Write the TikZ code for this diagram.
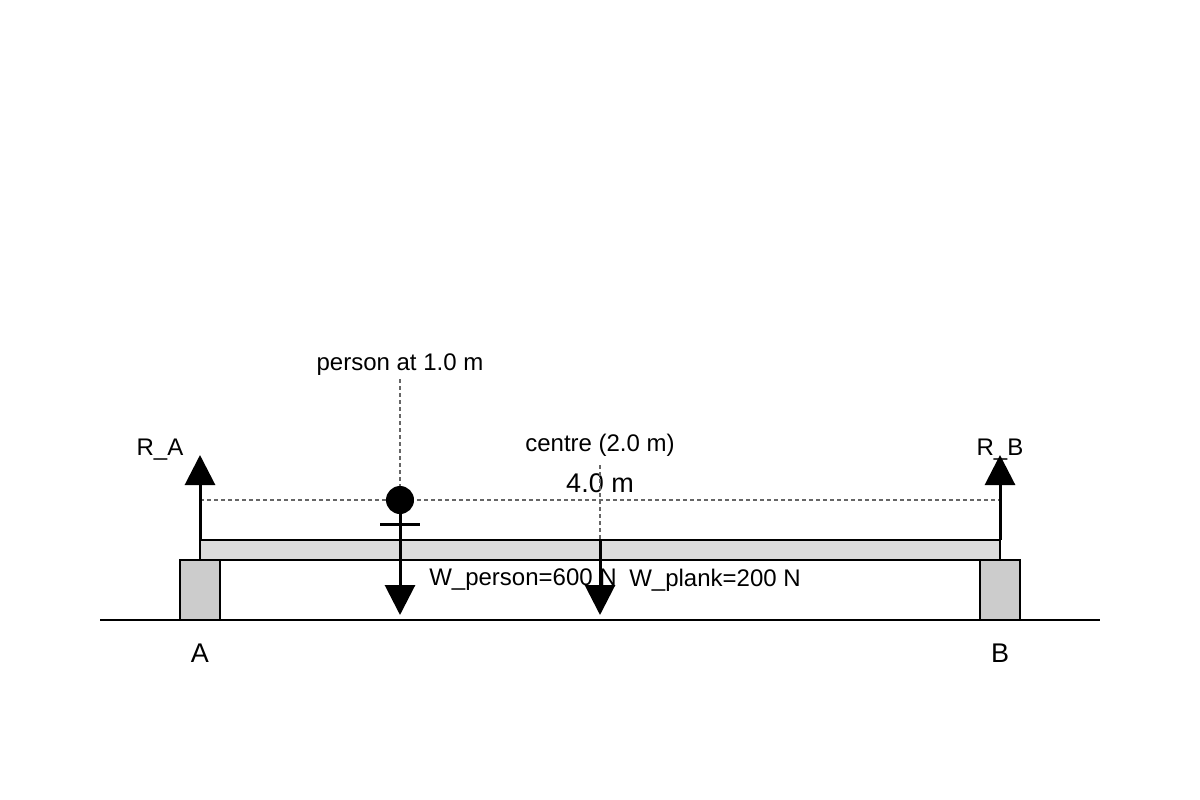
\documentclass[tikz,border=0pt]{standalone}
\usepackage{fontspec}
\setmainfont{Liberation Sans}
\usetikzlibrary{arrows.meta}
\definecolor{supportgray}{HTML}{CCCCCC}
\definecolor{plankgray}{HTML}{DDDDDD}
\tikzset{
  force/.style={line width=3pt, -{Triangle[length=30pt, width=30pt]}},
  guide/.style={gray!80!black, dash pattern=on 4pt off 3pt, line width=1.3pt},
  lbl/.style={font=\fontsize{24}{28}\selectfont},
  biglbl/.style={font=\fontsize{27}{31}\selectfont}
}
\begin{document}
\begin{tikzpicture}[x=1pt, y=-1pt]
        \useasboundingbox (0, 0) rectangle (1200, 800);
        % ground and supports
        \draw[line width=2pt] (100, 620) -- (1100, 620);
        \draw[fill=supportgray, line width=1.6pt] (180, 560) rectangle (220, 620);
        \draw[fill=supportgray, line width=1.6pt] (980, 560) rectangle (1020, 620);
        \draw[fill=plankgray, line width=1.6pt] (200, 540) rectangle (1000, 560);
        \node[biglbl] (A) at (200, 653) {A};
        \node[biglbl] (B) at (1000, 653) {B};
        % reactions
        \coordinate (ra0) at (200, 540);
        \coordinate (ra1) at (200, 455);
        \coordinate (rb0) at (1000, 540);
        \coordinate (rb1) at (1000, 455);
        \draw[guide] (ra1 |- 0, 500) -- (rb1 |- 0, 500);
        \draw[force] (ra0) -- (ra1);
        \draw[force] (rb0) -- (rb1);
        \node[lbl] (RA) at (160, 450) {R\_A};
        \node[lbl] (RB) at (1000, 450) {R\_B};
        \node[biglbl] (span) at (600, 483) {4.0 m};
        % person
        \node[lbl] (ptxt) at (400, 365) {person at 1.0 m};
        \node[circle, fill=black, inner sep=0pt, minimum size=28pt] (head) at (400, 500) {};
        \draw[guide] (ptxt) -- (head);
        \draw[line width=3pt] (380, 524) -- (420, 524);
        \coordinate (wp1) at (400, 615);
        \draw[force] (head) -- (wp1);
        % plank weight
        \node[lbl] (ctxt) at (600, 445) {centre (2.0 m)};
        \coordinate (wc0) at (600, 540);
        \coordinate (wc1) at (600, 615);
        \draw[guide] (600, 465) -- (wc0);
        \draw[force] (wc0) -- (wc1);
        \node[lbl] (wptxt) at (523, 580) {W\_person=600 N};
        \node[lbl] (wctxt) at (715, 580) {W\_plank=200 N};
\end{tikzpicture}
\end{document}
